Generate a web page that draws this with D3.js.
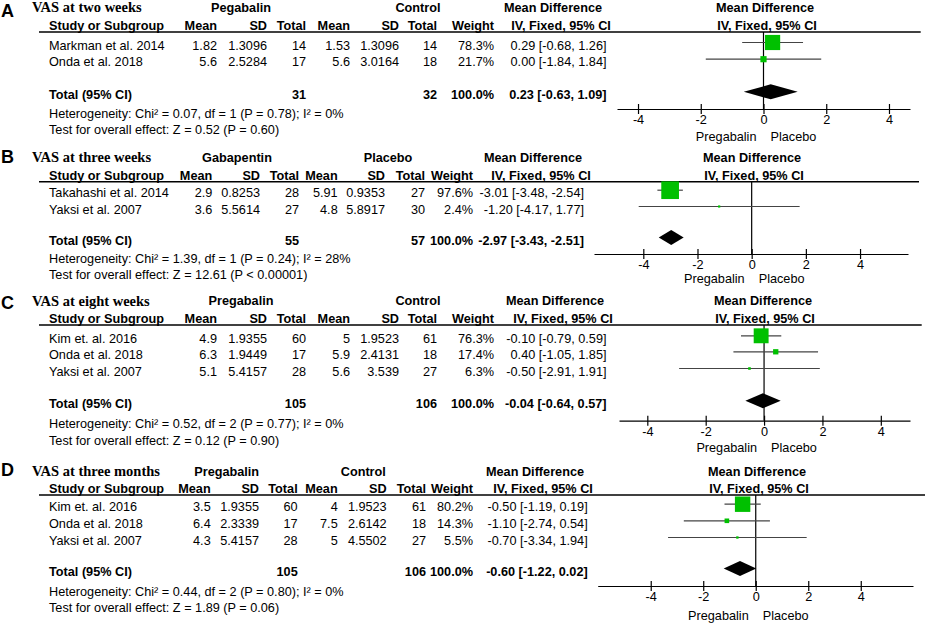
<!DOCTYPE html>
<html>
<head>
<meta charset="utf-8">
<script src="https://cdn.jsdelivr.net/npm/d3@7"></script>
<style>
  html, body { margin: 0; padding: 0; background: #fff; }
  svg { display: block; }
  text { font-family: "Liberation Sans", Arial, Helvetica, sans-serif; fill: #000; }
</style>
</head>
<body>
<svg id="chart" width="927" height="624"></svg>
<script>
// ---------------- DATA ----------------
const panelLetters = ["A", "B", "C", "D"];
const panelTitles = ["VAS at two weeks", "VAS at three weeks", "VAS at eight weeks", "VAS at three months"];
const expGroupLabels = ["Pegabalin", "Gabapentin", "Pregabalin", "Pregabalin"];
const ctlGroupLabels = ["Control", "Placebo", "Control", "Control"];

// Panel A
const studiesA = ["Markman et al. 2014", "Onda et al. 2018"];
const expMeanA = [1.82, 5.6];
const expSDA = [1.3096, 2.5284];
const expNA = [14, 17];
const ctlMeanA = [1.53, 5.6];
const ctlSDA = [1.3096, 3.0164];
const ctlNA = [14, 18];
const weightA = [78.3, 21.7];
const mdA = [0.29, 0.00];
const lowA = [-0.68, -1.84];
const highA = [1.26, 1.84];

// Panel B
const studiesB = ["Takahashi et al. 2014", "Yaksi et al. 2007"];
const expMeanB = [2.9, 3.6];
const expSDB = [0.8253, 5.5614];
const expNB = [28, 27];
const ctlMeanB = [5.91, 4.8];
const ctlSDB = [0.9353, 5.8917];
const ctlNB = [27, 30];
const weightB = [97.6, 2.4];
const mdB = [-3.01, -1.20];
const lowB = [-3.48, -4.17];
const highB = [-2.54, 1.77];

// Panel C
const studiesC = ["Kim et. al. 2016", "Onda et al. 2018", "Yaksi et al. 2007"];
const expMeanC = [4.9, 6.3, 5.1];
const expSDC = [1.9355, 1.9449, 5.4157];
const expNC = [60, 17, 28];
const ctlMeanC = [5, 5.9, 5.6];
const ctlSDC = [1.9523, 2.4131, 3.539];
const ctlNC = [61, 18, 27];
const weightC = [76.3, 17.4, 6.3];
const mdC = [-0.10, 0.40, -0.50];
const lowC = [-0.79, -1.05, -2.91];
const highC = [0.59, 1.85, 1.91];

// Panel D
const studiesD = ["Kim et. al. 2016", "Onda et al. 2018", "Yaksi et al. 2007"];
const expMeanD = [3.5, 6.4, 4.3];
const expSDD = [1.9355, 2.3339, 5.4157];
const expND = [60, 17, 28];
const ctlMeanD = [4, 7.5, 5];
const ctlSDD = [1.9523, 2.6142, 4.5502];
const ctlND = [61, 18, 27];
const weightD = [80.2, 14.3, 5.5];
const mdD = [-0.50, -1.10, -0.70];
const lowD = [-1.19, -2.74, -3.34];
const highD = [0.19, 0.54, 1.94];

// Totals
const totalExpN = [31, 55, 105, 105];
const totalCtlN = [32, 57, 106, 106];
const totalWeight = [100.0, 100.0, 100.0, 100.0];
const totalMD = [0.23, -2.97, -0.04, -0.60];
const totalLow = [-0.63, -3.43, -0.64, -1.22];
const totalHigh = [1.09, -2.51, 0.57, 0.02];
const heterogeneity = [
  "Heterogeneity: Chi\u00b2 = 0.07, df = 1 (P = 0.78); I\u00b2 = 0%",
  "Heterogeneity: Chi\u00b2 = 1.39, df = 1 (P = 0.24); I\u00b2 = 28%",
  "Heterogeneity: Chi\u00b2 = 0.52, df = 2 (P = 0.77); I\u00b2 = 0%",
  "Heterogeneity: Chi\u00b2 = 0.44, df = 2 (P = 0.80); I\u00b2 = 0%"
];
const overallTest = [
  "Test for overall effect: Z = 0.52 (P = 0.60)",
  "Test for overall effect: Z = 12.61 (P < 0.00001)",
  "Test for overall effect: Z = 0.12 (P = 0.90)",
  "Test for overall effect: Z = 1.89 (P = 0.06)"
];
const tickValues = [-4, -2, 0, 2, 4];
const favoursLeft = "Pregabalin";
const favoursRight = "Placebo";

// ---------------- LAYOUT ----------------
const layouts = [
  { letterY: 11, titleY: 7, subY: 25.7, lineY: 32, lineX2: 920.7, rows: [45, 61.7], totalY: 94.3, hetY: 113.3, testY: 129.3,
    cols: [217, 267, 306, 350, 399, 437, 494, 606.5], grp: [241, 418], mdHead: 553,
    dom: [-4.67, 4.67], rng: [617, 910], axisY: 109, sideY: 136.5, plotHead: 765 },
  { letterY: 157, titleY: 157, subY: 175, lineY: 181.7, lineX2: 919, rows: [192.7, 209], totalY: 240, hetY: 258.3, testY: 274.3,
    cols: [212.3, 260, 299, 337.7, 385, 425, 473, 584], grp: [237, 388], mdHead: 533,
    dom: [-5.82, 5.77], rng: [594, 908], axisY: 254, sideY: 278.5, plotHead: 752 },
  { letterY: 303, titleY: 300.5, subY: 318.3, lineY: 325, lineX2: 921.7, rows: [338.3, 354.3, 371], totalY: 403.3, hetY: 423.3, testY: 440,
    cols: [217, 267, 306, 350, 399, 437, 494, 606.5], grp: [241, 418], mdHead: 555,
    dom: [-4.97, 5.0], rng: [619, 910], axisY: 420.7, sideY: 447, plotHead: 763 },
  { letterY: 470, titleY: 471, subY: 488.3, lineY: 495, lineX2: 925, rows: [506.7, 523.3, 540], totalY: 571, hetY: 591.7, testY: 607.7,
    cols: [210.7, 259, 297.7, 337.7, 386.7, 426, 473, 587.7], grp: [226.7, 363.3], mdHead: 535,
    dom: [-6.02, 5.99], rng: [597.7, 913], axisY: 586, sideY: 615, plotHead: 757 }
];

const panelStudies = [
  { names: studiesA, em: expMeanA, es: expSDA, en: expNA, cm: ctlMeanA, cs: ctlSDA, cn: ctlNA, w: weightA, md: mdA, lo: lowA, hi: highA },
  { names: studiesB, em: expMeanB, es: expSDB, en: expNB, cm: ctlMeanB, cs: ctlSDB, cn: ctlNB, w: weightB, md: mdB, lo: lowB, hi: highB },
  { names: studiesC, em: expMeanC, es: expSDC, en: expNC, cm: ctlMeanC, cs: ctlSDC, cn: ctlNC, w: weightC, md: mdC, lo: lowC, hi: highC },
  { names: studiesD, em: expMeanD, es: expSDD, en: expND, cm: ctlMeanD, cs: ctlSDD, cn: ctlND, w: weightD, md: mdD, lo: lowD, hi: highD }
];

const FS = 12.7;
const svg = d3.select("#chart");
const sizeScale = d3.scalePow().exponent(0.7).domain([0, 100]).range([0, 18]);
const fmt2 = v => v.toFixed(2);
const ciText = (m, l, h) => `${fmt2(m)} [${fmt2(l)}, ${fmt2(h)}]`;

function txt(g, x, y, s, opts = {}) {
  return g.append("text")
    .attr("x", x).attr("y", y).attr("dy", "0.36em")
    .attr("text-anchor", opts.anchor || "start")
    .attr("font-size", opts.size || FS)
    .attr("font-weight", opts.bold ? "bold" : "normal")
    .style("font-family", opts.family || null)
    .text(s);
}

panelLetters.forEach((letter, p) => {
  const L = layouts[p];
  const S = panelStudies[p];
  const g = svg.append("g");
  const c = L.cols;

  // Panel letter + title
  txt(g, 1, L.letterY, letter, { size: 18, bold: true });
  txt(g, 32, L.titleY, panelTitles[p], { size: 14.5, bold: true, family: "'Liberation Serif', 'Times New Roman', serif" });

  // Group headers
  txt(g, L.grp[0], L.titleY, expGroupLabels[p], { anchor: "middle", bold: true });
  txt(g, L.grp[1], L.titleY, ctlGroupLabels[p], { anchor: "middle", bold: true });
  txt(g, L.mdHead, L.titleY, "Mean Difference", { anchor: "middle", bold: true });
  txt(g, L.plotHead, L.titleY, "Mean Difference", { anchor: "middle", bold: true });

  // Column headers
  txt(g, 49, L.subY, "Study or Subgroup", { bold: true });
  ["Mean", "SD", "Total", "Mean", "SD", "Total", "Weight"].forEach((h, i) =>
    txt(g, c[i], L.subY, h, { anchor: "end", bold: true }));
  txt(g, L.mdHead + 8, L.subY, "IV, Fixed, 95% CI", { anchor: "middle", bold: true });
  txt(g, L.plotHead + 2, L.subY, "IV, Fixed, 95% CI", { anchor: "middle", bold: true });

  // Header rule
  g.append("line").attr("x1", 39).attr("x2", L.lineX2)
    .attr("y1", L.lineY).attr("y2", L.lineY)
    .attr("stroke", "#000").attr("stroke-width", 1.4);

  // Study rows
  S.names.forEach((name, i) => {
    const y = L.rows[i];
    txt(g, 49, y, name);
    const vals = [S.em[i], S.es[i], S.en[i], S.cm[i], S.cs[i], S.cn[i]].map(String);
    vals.forEach((v, k) => txt(g, c[k], y, v, { anchor: "end" }));
    txt(g, c[6], y, S.w[i].toFixed(1) + "%", { anchor: "end" });
    txt(g, c[7], y, ciText(S.md[i], S.lo[i], S.hi[i]), { anchor: "end" });
  });

  // Totals
  txt(g, 49, L.totalY, "Total (95% CI)", { bold: true });
  txt(g, c[2], L.totalY, String(totalExpN[p]), { anchor: "end", bold: true });
  txt(g, c[5], L.totalY, String(totalCtlN[p]), { anchor: "end", bold: true });
  txt(g, c[6], L.totalY, totalWeight[p].toFixed(1) + "%", { anchor: "end", bold: true });
  txt(g, c[7], L.totalY, ciText(totalMD[p], totalLow[p], totalHigh[p]), { anchor: "end", bold: true });
  txt(g, 49, L.hetY, heterogeneity[p]);
  txt(g, 49, L.testY, overallTest[p]);

  // Plot
  const x = d3.scaleLinear().domain(L.dom).range(L.rng);
  const off = -2.5;

  // zero line
  g.append("line").attr("x1", x(0)).attr("x2", x(0))
    .attr("y1", L.lineY).attr("y2", L.axisY)
    .attr("stroke", "#000").attr("stroke-width", 1.2);

  // CI lines and squares
  S.names.forEach((name, i) => {
    const y = L.rows[i] + off;
    g.append("line").attr("x1", x(S.lo[i])).attr("x2", x(S.hi[i]))
      .attr("y1", y).attr("y2", y)
      .attr("stroke", "#444").attr("stroke-width", 1.2);
    const s = Math.max(2.2, sizeScale(S.w[i]));
    g.append("rect").attr("x", x(S.md[i]) - s / 2).attr("y", y - s / 2)
      .attr("width", s).attr("height", s).attr("fill", "#00c000");
  });

  // Diamond
  const dy = L.totalY + off, h = 7.5;
  g.append("polygon")
    .attr("points", [[x(totalLow[p]), dy], [x(totalMD[p]), dy - h], [x(totalHigh[p]), dy], [x(totalMD[p]), dy + h]]
      .map(d => d.join(",")).join(" "))
    .attr("fill", "#000");

  // Axis
  const axis = d3.axisBottom(x).tickValues(tickValues).tickFormat(d => String(d))
    .tickSizeInner(4).tickSizeOuter(0).tickPadding(4);
  const ag = g.append("g").attr("transform", `translate(0,${L.axisY})`).call(axis);
  ag.select(".domain").attr("stroke", "#000").attr("stroke-width", 1.2);
  ag.selectAll(".tick line").attr("y1", -5).attr("y2", 5).attr("stroke", "#000").attr("stroke-width", 1.2);
  ag.selectAll(".tick text").attr("y", 6).attr("font-size", FS)
    .style("font-family", "'Liberation Sans', Arial, sans-serif").attr("fill", "#000");

  txt(g, x(0) - 7, L.sideY, favoursLeft, { anchor: "end" });
  txt(g, x(0) + 7, L.sideY, favoursRight, { anchor: "start" });
});
</script>
</body>
</html>
